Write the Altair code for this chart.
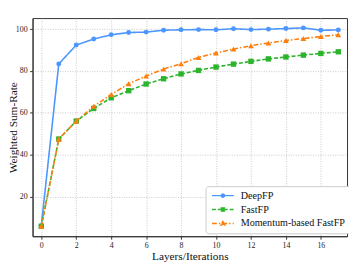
import altair as alt
import pandas as pd

iterations = list(range(18))
deepfp = [6.1, 83.4, 92.4, 95.3, 97.3, 98.4, 98.6, 99.5, 99.7, 99.8, 99.7, 100.2, 99.8, 100.0, 100.3, 100.6, 99.5, 99.6]
fastfp = [5.8, 47.5, 56.1, 62.1, 67.2, 70.6, 73.8, 76.3, 78.6, 80.3, 81.9, 83.3, 84.6, 85.8, 86.7, 87.6, 88.4, 89.2]
momentum = [5.8, 47.5, 56.1, 63.2, 68.8, 73.9, 77.6, 80.9, 83.5, 86.5, 88.6, 90.5, 92.1, 93.4, 94.6, 95.5, 96.5, 97.3]

series_names = ["DeepFP", "FastFP", "Momentum-based FastFP"]
series_values = [deepfp, fastfp, momentum]
colors = ["#4c96ff", "#2cb52c", "#ff7f0e"]
dashes = [[1, 0], [4, 2], [5, 2, 1.5, 2]]
marker_shapes = ["circle", "square", "triangle-up"]
marker_sizes = [25, 30, 34]
x_ticks = list(range(0, 17, 2))
y_ticks = [20, 40, 60, 80, 100]

line_part = "M-3.7,0H3.7"
legend_paths = [
    line_part + "M-0.55,0A0.55,0.55,0,1,0,0.55,0A0.55,0.55,0,1,0,-0.55,0Z",
    line_part + "M-0.55,-0.55H0.55V0.55H-0.55Z",
    line_part + "M0,-0.75L0.7,0.5H-0.7Z",
]

rows = []
for name, vals in zip(series_names, series_values):
    for it, v in zip(iterations, vals):
        rows.append({"it": it, "rate": v, "series": name})
df = pd.DataFrame(rows)

FONT = "Liberation Serif"

x_enc = alt.X("it:Q", scale=alt.Scale(domain=[-0.5, 17.5], nice=False, zero=False),
              axis=alt.Axis(values=x_ticks, title="Layers/Iterations", format="d"))
y_enc = alt.Y("rate:Q", scale=alt.Scale(domain=[1.06, 105.3], nice=False, zero=False),
              axis=alt.Axis(values=y_ticks, title="Weighted Sum-Rate", format="d"))

layers = []
for name, col, dash, shp, sz in zip(series_names, colors, dashes, marker_shapes, marker_sizes):
    base = alt.Chart(df).transform_filter(alt.datum.series == name)
    line = base.mark_line(strokeWidth=1.6, color=col, strokeDash=dash).encode(x=x_enc, y=y_enc)
    pts = base.mark_point(shape=shp, size=sz, filled=True, opacity=1, strokeWidth=0, color=col).encode(
        x=x_enc, y=y_enc)
    layers += [line, pts]

leg = alt.Legend(
    title=None, orient="none", legendX=176, legendY=171,
    labelFont=FONT, labelFontSize=10.3, labelColor="#111",
    symbolSize=36, symbolStrokeWidth=1.4, symbolOffset=8, labelOffset=13,
    padding=4.5, rowPadding=3.2, strokeColor="#cccccc", fillColor="white",
    cornerRadius=3, symbolOpacity=1,
)
color_scale = alt.Scale(domain=series_names, range=colors)
legend_layer = alt.Chart(df).transform_filter("false").mark_point(filled=True, opacity=1).encode(
    x=x_enc, y=y_enc,
    fill=alt.Fill("series:N", scale=color_scale, legend=leg),
    stroke=alt.Stroke("series:N", scale=color_scale, legend=leg),
    shape=alt.Shape("series:N", scale=alt.Scale(domain=series_names, range=legend_paths), legend=leg),
    strokeDash=alt.StrokeDash("series:N", scale=alt.Scale(domain=series_names, range=dashes), legend=leg),
)

chart = alt.layer(*layers, legend_layer).properties(
    width=320, height=222,
    padding={"left": 25, "top": 8, "right": 2, "bottom": 26},
    autosize=alt.AutoSizeParams(type="none"),
).configure_view(
    stroke="#333333", strokeWidth=1
).configure_axis(
    labelFont=FONT, labelFontSize=8, labelColor="#222",
    titleFont=FONT, titleFontSize=11.5, titleFontWeight="normal", titleColor="#111",
    tickSize=3, tickColor="#333", domainColor="#333", labelPadding=2.5,
    gridColor="#bbbbbb", gridDash=[1, 1.5], gridWidth=0.8,
).configure_axisX(
    titlePadding=1.5
).configure_axisY(
    titlePadding=-3
)

chart.save("out.html", embed_options={"renderer": "svg", "actions": False})
